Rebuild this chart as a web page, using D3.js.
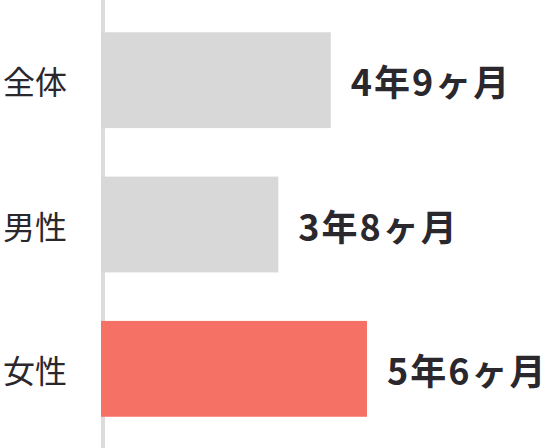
<!DOCTYPE html>
<html>
<head>
<meta charset="utf-8">
<script src="https://cdn.jsdelivr.net/npm/d3@7"></script>
<style>
  html, body { margin: 0; padding: 0; background: #fff; }
  #chart { width: 554px; height: 448px; }
  .cat { font-family: "Noto Sans CJK JP", sans-serif; font-size: 32px; fill: #2a282d; }
  .val { font-family: "Noto Sans CJK JP", sans-serif; font-size: 36px; font-weight: bold; fill: #2a282d; letter-spacing: 2px; }
</style>
</head>
<body>
<div id="chart"></div>
<script>
// カテゴリと期間(年・月)
const categories = ['全体', '男性', '女性'];
const years = [4, 3, 5];
const months = [9, 8, 6];
const barColors = ['#d8d8d8', '#d8d8d8', '#f57165'];

const width = 554;
const height = 448;

const total_months = categories.map((c, i) => years[i] * 12 + months[i]);

const svg = d3.select('#chart').append('svg')
  .attr('width', width)
  .attr('height', height);

// 横軸: 月数
const xScale = d3.scaleLinear()
  .domain([0, d3.max(total_months)])
  .range([101, 367]);

// 縦軸: カテゴリ
const yScale = d3.scaleBand()
  .domain(categories)
  .range([8, 441])
  .paddingInner(0.336)
  .paddingOuter(0.168);

// 軸の縦線
svg.append('line')
  .attr('x1', 103).attr('x2', 103)
  .attr('y1', 0).attr('y2', height)
  .attr('stroke', '#dcdcdc')
  .attr('stroke-width', 4);

// バー
svg.selectAll('rect.bar')
  .data(categories)
  .join('rect')
  .attr('class', 'bar')
  .attr('x', xScale(0))
  .attr('y', d => yScale(d))
  .attr('width', (d, i) => xScale(total_months[i]) - xScale(0))
  .attr('height', yScale.bandwidth())
  .attr('fill', (d, i) => barColors[i]);

// カテゴリラベル
svg.selectAll('text.cat')
  .data(categories)
  .join('text')
  .attr('class', 'cat')
  .attr('x', 3)
  .attr('y', d => yScale(d) + yScale.bandwidth() / 2)
  .attr('dominant-baseline', 'central')
  .text(d => d);

// 値ラベル
svg.selectAll('text.val')
  .data(categories)
  .join('text')
  .attr('class', 'val')
  .attr('x', (d, i) => xScale(total_months[i]) + 20)
  .attr('y', d => yScale(d) + yScale.bandwidth() / 2)
  .attr('dominant-baseline', 'central')
  .text((d, i) => years[i] + '年' + months[i] + 'ヶ月');
</script>
</body>
</html>
